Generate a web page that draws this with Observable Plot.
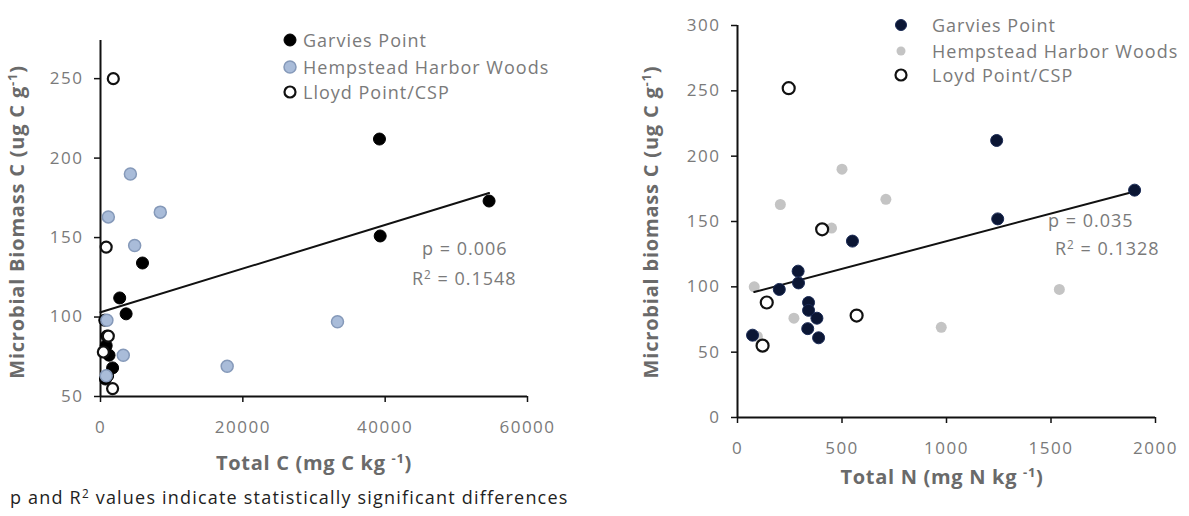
<!DOCTYPE html>
<html><head><meta charset="utf-8">
<script src="https://cdn.jsdelivr.net/npm/d3@7"></script>
<script src="https://cdn.jsdelivr.net/npm/@observablehq/plot@0.6"></script>
<style>
body{margin:0;background:#fff;font-family:"Open Sans",sans-serif;}
#wrap{position:relative;width:1189px;height:516px;overflow:hidden;background:#fff;}
.abs{position:absolute;white-space:nowrap;line-height:1;}
.plot{position:absolute;top:0;}
.plot text{letter-spacing:1.5px;}
.leg{color:#7a7a7a;font-size:18px;letter-spacing:1px;}
.ann{color:#7a7a7a;font-size:18px;letter-spacing:1px;transform:translateY(-50%);}
.cap{color:#222;font-size:18px;letter-spacing:1.2px;transform:translateY(-50%);}
.ttl{color:#6a6a6a;font-size:20px;font-weight:700;letter-spacing:0.7px;transform:translate(-50%,-50%);}
.ttly{color:#6a6a6a;font-size:20px;font-weight:700;letter-spacing:0.8px;transform:translate(-50%,-50%) rotate(-90deg);}
sup{font-size:0.65em;line-height:0;vertical-align:0.55em;}
</style></head><body><div id="wrap"></div>
<script>
// ---- data ----
const siteNamesC = ["Garvies Point", "Hempstead Harbor Woods", "Lloyd Point/CSP"];
const siteNamesN = ["Garvies Point", "Hempstead Harbor Woods", "Loyd Point/CSP"];

// Left panel: Total C (mg C kg-1) vs Microbial Biomass C (ug C g-1)
const gpC_x = [39200, 54600, 39300, 5900, 2700, 3600, 1700, 600, 900, 800, 1200, 700, 1000];
const gpC_y = [212, 173, 151, 134, 112, 102, 68, 98, 88, 82, 76, 61, 63];
const hhC_x = [4200, 1100, 8400, 4800, 900, 3200, 800, 17800, 33300];
const hhC_y = [190, 163, 166, 145, 98, 76, 63, 69, 97];
const lpC_x = [1800, 800, 1100, 400, 1700];
const lpC_y = [250, 144, 88, 78, 55];
const trendC_x = [0, 54600];
const trendC_y = [103, 178];
const ticksC_x = [0, 20000, 40000, 60000];
const ticksC_y = [50, 100, 150, 200, 250];

// Right panel: Total N (mg N kg-1) vs Microbial biomass C (ug C g-1)
const gpN_x = [1240, 1900, 1245, 550, 290, 292, 200, 340, 340, 380, 336, 388, 72];
const gpN_y = [212, 174, 152, 135, 112, 103, 98, 88, 82, 76, 68, 61, 63];
const hhN_x = [500, 205, 710, 450, 80, 270, 95, 975, 1540];
const hhN_y = [190, 163, 167, 145, 100, 76, 62, 69, 98];
const lpN_x = [245, 405, 140, 570, 120];
const lpN_y = [252, 144, 88, 78, 55];
const trendN_x = [80, 1900];
const trendN_y = [96, 173];
const ticksN_x = [0, 500, 1000, 1500, 2000];
const ticksN_y = [0, 50, 100, 150, 200, 250, 300];

const rows = (xs, ys) => xs.map((x, i) => ({x, y: ys[i]}));
const fmt = d3.format("d");
const baseStyle = {fontFamily: "'Open Sans', sans-serif", fontSize: "17px", background: "transparent", overflow: "visible"};

function axes(tx, ty, x0, y0) {
  return [
    Plot.axisX({ticks: tx, tickFormat: fmt, tickSize: 6, tickPadding: 18, stroke: "#111", strokeWidth: 1.5, fill: "#7a7a7a", label: null}),
    Plot.axisY({ticks: ty, tickFormat: fmt, tickSize: 6, tickPadding: 11, stroke: "#111", strokeWidth: 1.5, fill: "#7a7a7a", label: null}),
    Plot.ruleY([y0], {stroke: "#111", strokeWidth: 2}),
    Plot.ruleX([x0], {stroke: "#111", strokeWidth: 2})
  ];
}

const leftPlot = Plot.plot({
  width: 570, height: 480,
  marginLeft: 100, marginTop: 40, marginBottom: 84, marginRight: 43,
  style: baseStyle,
  x: {domain: [0, 60000]},
  y: {domain: [50, 274]},
  marks: [
    ...axes(ticksC_x, ticksC_y, 0, 50),
    Plot.line(rows(trendC_x, trendC_y), {x: "x", y: "y", stroke: "#111", strokeWidth: 2}),
    Plot.dot(rows(gpC_x, gpC_y), {x: "x", y: "y", r: 6, fill: "#000", stroke: "#000", strokeWidth: 1}),
    Plot.dot(rows(hhC_x, hhC_y), {x: "x", y: "y", r: 6, fill: "#a9bcd9", stroke: "#8599b9", strokeWidth: 1.5}),
    Plot.dot(rows(lpC_x, lpC_y), {x: "x", y: "y", r: 5.5, fill: "#fff", stroke: "#111", strokeWidth: 2.2})
  ]
});

const rightPlot = Plot.plot({
  width: 589, height: 480,
  marginLeft: 137, marginTop: 25, marginBottom: 63, marginRight: 34,
  style: baseStyle,
  x: {domain: [0, 2000]},
  y: {domain: [0, 300]},
  marks: [
    ...axes(ticksN_x, ticksN_y, 0, 0),
    Plot.dot(rows(hhN_x, hhN_y), {x: "x", y: "y", r: 5.5, fill: "#c4c4c4"}),
    Plot.line(rows(trendN_x, trendN_y), {x: "x", y: "y", stroke: "#111", strokeWidth: 2}),
    Plot.dot(rows(gpN_x, gpN_y), {x: "x", y: "y", r: 6, fill: "#0b1634", stroke: "#1a2a55", strokeWidth: 1}),
    Plot.dot(rows(lpN_x, lpN_y), {x: "x", y: "y", r: 6, fill: "#fff", stroke: "#111", strokeWidth: 2.2})
  ]
});

const wrap = document.getElementById("wrap");
leftPlot.classList.add("plot"); leftPlot.style.left = "0px";
rightPlot.classList.add("plot"); rightPlot.style.left = "600px";
wrap.append(leftPlot, rightPlot);

function addHTML(html, cls, left, top) {
  const d = document.createElement("div");
  d.className = "abs " + cls;
  d.style.left = left + "px"; d.style.top = top + "px";
  d.innerHTML = html;
  wrap.append(d);
  return d;
}
function swatch(fill, stroke, sw, r) {
  return `<svg width="16" height="16" style="position:absolute;left:-8px;top:-8px;overflow:visible"><circle cx="8" cy="8" r="${r}" fill="${fill}" stroke="${stroke}" stroke-width="${sw}"/></svg>`;
}

// left legend
const legL = [[siteNamesC[0], "#000", "#000", 1, 6], [siteNamesC[1], "#a9bcd9", "#8599b9", 1.5, 6], [siteNamesC[2], "#fff", "#111", 2.2, 5.5]];
[40, 67, 92].forEach((cy, i) => {
  const [n, f, s, w, r] = legL[i];
  addHTML(swatch(f, s, w, r), "", 290, cy);
  addHTML(n, "leg ann", 303, cy);
});
// right legend
const legR = [[siteNamesN[0], "#0b1634", "#1a2a55", 1, 5.5], [siteNamesN[1], "#c4c4c4", "none", 0, 4.5], [siteNamesN[2], "#fff", "#111", 2.2, 5.5]];
[25, 51, 75].forEach((cy, i) => {
  const [n, f, s, w, r] = legR[i];
  addHTML(swatch(f, s, w, r), "", 901, cy);
  addHTML(n, "leg ann", 932, cy);
});

// annotations
addHTML("p = 0.006", "ann", 422, 248);
addHTML("R<sup>2</sup> = 0.1548", "ann", 412, 278);
addHTML("p = 0.035", "ann", 1048, 220);
addHTML("R<sup>2</sup> = 0.1328", "ann", 1055, 248);

// axis titles
addHTML("Total C (mg C kg <sup>-1</sup>)", "ttl", 314, 463);
addHTML("Total N (mg N kg <sup>-1</sup>)", "ttl", 942, 477);
addHTML("Microbial Biomass C (ug C g<sup>-1</sup>)", "ttly", 17, 222);
addHTML("Microbial biomass C (ug C g<sup>-1</sup>)", "ttly", 651, 222);

// caption
addHTML("p and R<sup>2</sup> values indicate statistically significant differences", "cap", 10, 497);
</script></body></html>
